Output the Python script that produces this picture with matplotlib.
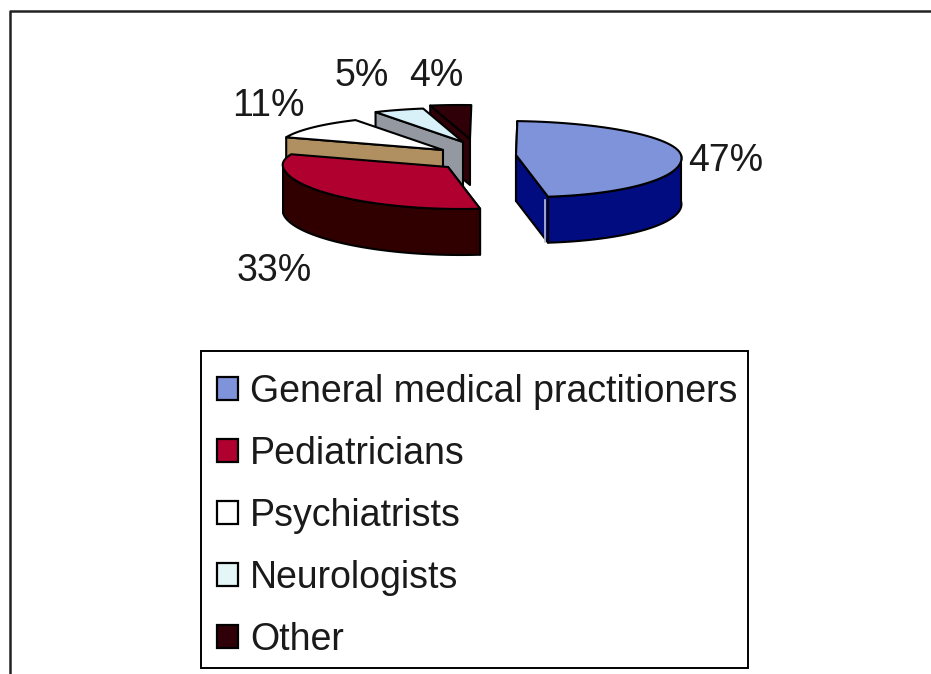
import numpy as np
import matplotlib
matplotlib.use("Agg")
import matplotlib.pyplot as plt
from matplotlib.patches import Patch, Rectangle

plt.rcParams['font.family'] = ['Liberation Sans', 'DejaVu Sans']

# Chart data
categories = ["General medical practitioners", "Pediatricians", "Psychiatrists", "Neurologists", "Other"]
values = [47, 33, 11, 5, 4]
value_labels = ["47%", "33%", "11%", "5%", "4%"]

# Colours per slice
top_colors = ["#7f93da", "#b00030", "#ffffff", "#d8f0f8", "#300008"]
side_colors = ["#000c80", "#300000", "#ffffff", "#d8f0f8", "#300008"]
cut_colors = ["#000c80", "#300000", "#b09060", "#9498a0", "#300008"]
legend_colors = ["#7f93da", "#b00030", "#ffffff", "#e4f6f6", "#300008"]

# Pie layout, in pixels of the 931x674 picture
center = (463, 160)
radius_x = 165
radius_back = 34
radius_front = 42
depth = 46
shear = 0.3
start_angle = 4
explode_x = [53, -15, -20, 0, 7]
explode_y = [-5, 7, -10, -18, -21]
label_pos = [(726, 161), (274, 271), (268, 106), (362, 76), (436, 76)]


def project(angle, cx, cy):
    rad = np.radians(angle)
    cos = np.cos(rad)
    y = cos * np.where(cos > 0, radius_back, radius_front)
    return cx + radius_x * np.sin(rad) - shear * y, cy - y


fig = plt.figure(figsize=(9.31, 6.74), dpi=100)
ax = fig.add_axes([0, 0, 1, 1])
ax.set_xlim(0, 931)
ax.set_ylim(674, 0)
ax.axis('off')

# Outer frame, only the top and left sides show
ax.plot([10, 10, 931], [674, 11, 11], color="#222222", lw=1.8)

# Slices
sweeps = np.array(values) / sum(values) * 360
starts = start_angle + np.concatenate(([0], np.cumsum(sweeps)[:-1]))
line = dict(edgecolor="black", linewidth=1.5, joinstyle="round")

for i in [4, 3, 2, 1, 0]:
    cx = center[0] + explode_x[i]
    cy = center[1] + explode_y[i]
    angles = np.linspace(starts[i], starts[i] + sweeps[i], 60)
    px, py = project(angles, cx, cy)

    # start cut face always shows, the end one only on the near side
    ax.fill([cx, px[0], px[0], cx], [cy, py[0], py[0] + depth, cy + depth], facecolor=cut_colors[i], **line)
    if 90 < angles[-1] < 270:
        ax.fill([cx, px[-1], px[-1], cx], [cy, py[-1], py[-1] + depth, cy + depth], facecolor=cut_colors[i], **line)
    # outer wall, only the part that faces the viewer
    front = (np.mod(angles, 360) > 90) & (np.mod(angles, 360) < 270)
    if front.any():
        ax.fill(np.r_[px[front], px[front][::-1]], np.r_[py[front], py[front][::-1] + depth],
                facecolor=side_colors[i], **line)
    # top
    ax.fill(np.r_[cx, px], np.r_[cy, py], facecolor=top_colors[i], **line)
    if i == 0:
        # light seam on the blue wall
        ax.plot([px[-1] - 3, px[-1] - 3], [py[-1] + 3, py[-1] + depth - 1], color="#b8c0e0", lw=1.2)

for (x, y), text in zip(label_pos, value_labels):
    ax.text(x, y, text, fontsize=27, ha="center", va="center", color="#1a1a1a")

# Legend
ax.add_patch(Rectangle((201, 351), 547, 317, facecolor="white", edgecolor="black", linewidth=1.4))
handles = [Patch(facecolor=c, edgecolor="black", linewidth=1.6) for c in legend_colors]
leg = ax.legend(handles, categories, loc="upper left", bbox_to_anchor=(217 / 931, 1 - 374 / 674),
                fontsize=27, frameon=False, borderaxespad=0, borderpad=0, labelspacing=0.69,
                handlelength=0.56, handleheight=0.56, handletextpad=0.32)
for t in leg.get_texts():
    t.set_color("#1a1a1a")

fig.savefig("out.png", dpi=100)
